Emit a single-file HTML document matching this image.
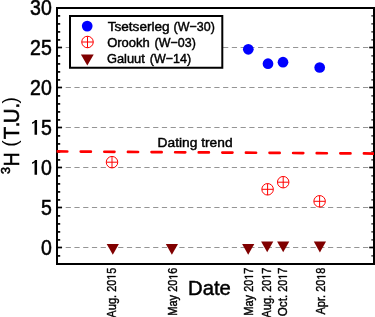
<!DOCTYPE html>
<html><head><meta charset="utf-8">
<style>
html,body{margin:0;padding:0;background:#fff;width:375px;height:317px;overflow:hidden;}
svg{display:block;will-change:transform;}
text{font-family:"Liberation Sans", sans-serif;fill:#000;stroke:#000;stroke-width:0.45px;}
</style></head>
<body>
<svg width="375" height="317" viewBox="0 0 375 317">
<defs><clipPath id="pa"><rect x="56.6" y="8" width="317.4" height="256"/></clipPath></defs>
<g stroke="#959595" stroke-width="1.2" stroke-dasharray="5.2 3.544" fill="none"><line x1="56.95" y1="47.5" x2="373" y2="47.5"/><line x1="56.95" y1="87.5" x2="373" y2="87.5"/><line x1="56.95" y1="127.5" x2="373" y2="127.5"/><line x1="56.95" y1="167.5" x2="373" y2="167.5"/><line x1="56.95" y1="207.5" x2="373" y2="207.5"/><line x1="56.95" y1="247.5" x2="373" y2="247.5"/></g>
<g stroke="#000" stroke-width="1.7"><line x1="58" y1="255.9" x2="60.2" y2="255.9"/><line x1="58" y1="247.5" x2="62" y2="247.5"/><line x1="58" y1="239.9" x2="60.2" y2="239.9"/><line x1="58" y1="231.9" x2="60.2" y2="231.9"/><line x1="58" y1="223.9" x2="60.2" y2="223.9"/><line x1="58" y1="215.9" x2="60.2" y2="215.9"/><line x1="58" y1="207.5" x2="62" y2="207.5"/><line x1="58" y1="199.9" x2="60.2" y2="199.9"/><line x1="58" y1="191.9" x2="60.2" y2="191.9"/><line x1="58" y1="183.9" x2="60.2" y2="183.9"/><line x1="58" y1="175.9" x2="60.2" y2="175.9"/><line x1="58" y1="167.5" x2="62" y2="167.5"/><line x1="58" y1="159.9" x2="60.2" y2="159.9"/><line x1="58" y1="151.9" x2="60.2" y2="151.9"/><line x1="58" y1="143.9" x2="60.2" y2="143.9"/><line x1="58" y1="135.9" x2="60.2" y2="135.9"/><line x1="58" y1="127.5" x2="62" y2="127.5"/><line x1="58" y1="119.9" x2="60.2" y2="119.9"/><line x1="58" y1="111.9" x2="60.2" y2="111.9"/><line x1="58" y1="103.9" x2="60.2" y2="103.9"/><line x1="58" y1="95.9" x2="60.2" y2="95.9"/><line x1="58" y1="87.5" x2="62" y2="87.5"/><line x1="58" y1="79.9" x2="60.2" y2="79.9"/><line x1="58" y1="71.9" x2="60.2" y2="71.9"/><line x1="58" y1="63.9" x2="60.2" y2="63.9"/><line x1="58" y1="55.9" x2="60.2" y2="55.9"/><line x1="58" y1="47.5" x2="62" y2="47.5"/><line x1="58" y1="39.9" x2="60.2" y2="39.9"/><line x1="58" y1="31.9" x2="60.2" y2="31.9"/><line x1="58" y1="23.9" x2="60.2" y2="23.9"/><line x1="58" y1="15.9" x2="60.2" y2="15.9"/><line x1="373" y1="247.5" x2="369.2" y2="247.5"/><line x1="373" y1="207.5" x2="369.2" y2="207.5"/><line x1="373" y1="167.5" x2="369.2" y2="167.5"/><line x1="373" y1="127.5" x2="369.2" y2="127.5"/><line x1="373" y1="87.5" x2="369.2" y2="87.5"/><line x1="373" y1="47.5" x2="369.2" y2="47.5"/></g><g stroke="#222" stroke-width="1.3"><line x1="373" y1="255.9" x2="371.3" y2="255.9"/><line x1="373" y1="239.9" x2="371.3" y2="239.9"/><line x1="373" y1="231.9" x2="371.3" y2="231.9"/><line x1="373" y1="223.9" x2="371.3" y2="223.9"/><line x1="373" y1="215.9" x2="371.3" y2="215.9"/><line x1="373" y1="199.9" x2="371.3" y2="199.9"/><line x1="373" y1="191.9" x2="371.3" y2="191.9"/><line x1="373" y1="183.9" x2="371.3" y2="183.9"/><line x1="373" y1="175.9" x2="371.3" y2="175.9"/><line x1="373" y1="159.9" x2="371.3" y2="159.9"/><line x1="373" y1="151.9" x2="371.3" y2="151.9"/><line x1="373" y1="143.9" x2="371.3" y2="143.9"/><line x1="373" y1="135.9" x2="371.3" y2="135.9"/><line x1="373" y1="119.9" x2="371.3" y2="119.9"/><line x1="373" y1="111.9" x2="371.3" y2="111.9"/><line x1="373" y1="103.9" x2="371.3" y2="103.9"/><line x1="373" y1="95.9" x2="371.3" y2="95.9"/><line x1="373" y1="79.9" x2="371.3" y2="79.9"/><line x1="373" y1="71.9" x2="371.3" y2="71.9"/><line x1="373" y1="63.9" x2="371.3" y2="63.9"/><line x1="373" y1="55.9" x2="371.3" y2="55.9"/><line x1="373" y1="39.9" x2="371.3" y2="39.9"/><line x1="373" y1="31.9" x2="371.3" y2="31.9"/><line x1="373" y1="23.9" x2="371.3" y2="23.9"/><line x1="373" y1="15.9" x2="371.3" y2="15.9"/></g>
<rect x="57" y="8" width="317" height="256" fill="none" stroke="#000" stroke-width="2"/>
<g clip-path="url(#pa)"><line x1="57.15" y1="151.45" x2="400" y2="153.71281" stroke="#ff0000" stroke-width="2.7" stroke-linecap="round" stroke-dasharray="10.1 13.5"/></g>
<g fill="#800000"><path d="M106.70 244 L118.90 244 L112.8 254.80Z"/><path d="M165.80 244 L178.00 244 L171.9 254.80Z"/><path d="M242.10 244 L254.30 244 L248.2 254.80Z"/><path d="M261.10 241.4 L273.30 241.4 L267.2 252.20Z"/><path d="M277.10 241.4 L289.30 241.4 L283.2 252.20Z"/><path d="M313.80 241.6 L326.00 241.6 L319.9 252.40Z"/></g>
<g fill="none" stroke="#ff0000" stroke-width="1"><circle cx="112" cy="162.2" r="5.75"/><path d="M106.25 162.2H117.75M112 156.45V167.95"/><circle cx="267.6" cy="189.3" r="5.75"/><path d="M261.85 189.3H273.35M267.6 183.55V195.05"/><circle cx="283.2" cy="182.2" r="5.75"/><path d="M277.45 182.2H288.95M283.2 176.45V187.95"/><circle cx="319.6" cy="201.3" r="5.75"/><path d="M313.85 201.3H325.35M319.6 195.55V207.05"/></g>
<g fill="#0000ff"><circle cx="248.3" cy="49.3" r="5.35"/><circle cx="268" cy="63.7" r="5.35"/><circle cx="283" cy="62.2" r="5.35"/><circle cx="319.7" cy="67.5" r="5.35"/></g>
<rect x="70" y="16" width="152.3" height="51.75" fill="#fff" stroke="#000" stroke-width="2"/>
<circle cx="87.2" cy="26.1" r="5.35" fill="#0000ff"/>
<g fill="none" stroke="#ff0000" stroke-width="1"><circle cx="87.5" cy="42" r="5.75"/><path d="M81.75 42H93.25M87.5 36.25V47.75"/></g>
<path d="M80.9 54.4 L93.7 54.4 L87.3 65.4Z" fill="#800000"/>
<text transform="translate(51.8,14.8) scale(0.88,1)" font-size="22.2" text-anchor="end" style="stroke-width:0.55px">30</text><text transform="translate(51.8,54.8) scale(0.88,1)" font-size="22.2" text-anchor="end" style="stroke-width:0.55px">25</text><text transform="translate(51.8,94.8) scale(0.88,1)" font-size="22.2" text-anchor="end" style="stroke-width:0.55px">20</text><text transform="translate(51.8,134.8) scale(0.88,1)" font-size="22.2" text-anchor="end" style="stroke-width:0.55px">5</text><text transform="translate(51.8,174.8) scale(0.88,1)" font-size="22.2" text-anchor="end" style="stroke-width:0.55px">0</text><text transform="translate(51.8,214.8) scale(0.88,1)" font-size="22.2" text-anchor="end" style="stroke-width:0.55px">5</text><text transform="translate(51.8,254.8) scale(0.88,1)" font-size="22.2" text-anchor="end" style="stroke-width:0.55px">0</text><g fill="#000"><path d="M34.55 134.85 L37.05 134.85 L37.05 119.90 L35.05 119.90 Q34.25 121.70 32.1 122.20 L32.1 124.00 Q33.75 123.50 34.55 122.60 Z"/><path d="M34.55 174.85 L37.05 174.85 L37.05 159.90 L35.05 159.90 Q34.25 161.70 32.1 162.20 L32.1 164.00 Q33.75 163.50 34.55 162.60 Z"/></g><text transform="translate(9.7,174.1) rotate(-90)" font-size="12.6" style="stroke-width:0.55px">3</text><text transform="translate(19,166.25) rotate(-90) scale(0.892,1)" font-size="21.3" style="stroke-width:0.55px">H</text><text transform="translate(17.0,146.7) rotate(-90)" font-size="19.3" style="stroke-width:0.0px">(</text><text transform="translate(19,139.2) rotate(-90) scale(0.955,1)" font-size="21.3" style="stroke-width:0.55px">T</text><text transform="translate(19,127.14) rotate(-90) scale(0.955,1)" font-size="21.3" style="stroke-width:0.55px">.</text><text transform="translate(19,123.3) rotate(-90) scale(0.955,1)" font-size="21.3" style="stroke-width:0.55px">U.</text><text transform="translate(17.0,103.6) rotate(-90)" font-size="19.3" style="stroke-width:0.0px">)</text><text transform="translate(107.68,31.2) scale(1.047,1)" font-size="13">Tsetserleg</text><text transform="translate(173.57,31.2) scale(0.96,1)" font-size="13">(W&#8722;30)</text><text transform="translate(107.14,47.0)" font-size="13">Orookh</text><text transform="translate(154.57,47.0) scale(0.96,1)" font-size="13">(W&#8722;03)</text><text transform="translate(106.9,62.7) scale(0.99,1)" font-size="13">Galuut</text><text transform="translate(149.87,62.7) scale(0.96,1)" font-size="13">(W&#8722;14)</text><text transform="translate(157.6,146.8) scale(1.06,1)" font-size="13">Dating trend</text><text transform="translate(188.0,295.3) scale(1.04,1)" font-size="19.5">Date</text><g transform="translate(115.5,267.7) rotate(-90) scale(0.905,1)"><text font-size="12" text-anchor="end" style="stroke-width:0.4px">20<tspan dx="6.674">5</tspan></text><polygon points="-10.330,0.000 -9.270,0.000 -9.270,-8.256 -10.242,-8.256 -12.193,-6.914 -12.193,-5.918 -10.330,-7.248" fill="#000" stroke="#000" style="stroke-width:0.4px"/><text font-size="12" text-anchor="end" transform="translate(-30.031,0) scale(1.02,1)" style="stroke-width:0.4px">Aug.</text></g><g transform="translate(177.4,267.7) rotate(-90) scale(0.905,1)"><text font-size="12" text-anchor="end" style="stroke-width:0.4px">20<tspan dx="6.674">6</tspan></text><polygon points="-10.330,0.000 -9.270,0.000 -9.270,-8.256 -10.242,-8.256 -12.193,-6.914 -12.193,-5.918 -10.330,-7.248" fill="#000" stroke="#000" style="stroke-width:0.4px"/><text font-size="12" text-anchor="end" transform="translate(-30.031,0) scale(1.02,1)" style="stroke-width:0.4px">May</text></g><g transform="translate(253.0,267.7) rotate(-90) scale(0.905,1)"><text font-size="12" text-anchor="end" style="stroke-width:0.4px">20<tspan dx="6.674">7</tspan></text><polygon points="-10.330,0.000 -9.270,0.000 -9.270,-8.256 -10.242,-8.256 -12.193,-6.914 -12.193,-5.918 -10.330,-7.248" fill="#000" stroke="#000" style="stroke-width:0.4px"/><text font-size="12" text-anchor="end" transform="translate(-30.031,0) scale(1.02,1)" style="stroke-width:0.4px">May</text></g><g transform="translate(270.5,267.7) rotate(-90) scale(0.905,1)"><text font-size="12" text-anchor="end" style="stroke-width:0.4px">20<tspan dx="6.674">7</tspan></text><polygon points="-10.330,0.000 -9.270,0.000 -9.270,-8.256 -10.242,-8.256 -12.193,-6.914 -12.193,-5.918 -10.330,-7.248" fill="#000" stroke="#000" style="stroke-width:0.4px"/><text font-size="12" text-anchor="end" transform="translate(-30.031,0) scale(1.02,1)" style="stroke-width:0.4px">Aug.</text></g><g transform="translate(286.9,267.7) rotate(-90) scale(0.905,1)"><text font-size="12" text-anchor="end" style="stroke-width:0.4px">20<tspan dx="6.674">7</tspan></text><polygon points="-10.330,0.000 -9.270,0.000 -9.270,-8.256 -10.242,-8.256 -12.193,-6.914 -12.193,-5.918 -10.330,-7.248" fill="#000" stroke="#000" style="stroke-width:0.4px"/><text font-size="12" text-anchor="end" transform="translate(-30.031,0) scale(1.07,1)" style="stroke-width:0.4px">Oct.</text></g><g transform="translate(325.4,267.7) rotate(-90) scale(0.905,1)"><text font-size="12" text-anchor="end" style="stroke-width:0.4px">20<tspan dx="6.674">8</tspan></text><polygon points="-10.330,0.000 -9.270,0.000 -9.270,-8.256 -10.242,-8.256 -12.193,-6.914 -12.193,-5.918 -10.330,-7.248" fill="#000" stroke="#000" style="stroke-width:0.4px"/><text font-size="12" text-anchor="end" transform="translate(-30.031,0) scale(1.02,1)" style="stroke-width:0.4px">Apr.</text></g>
</svg>
</body></html>
